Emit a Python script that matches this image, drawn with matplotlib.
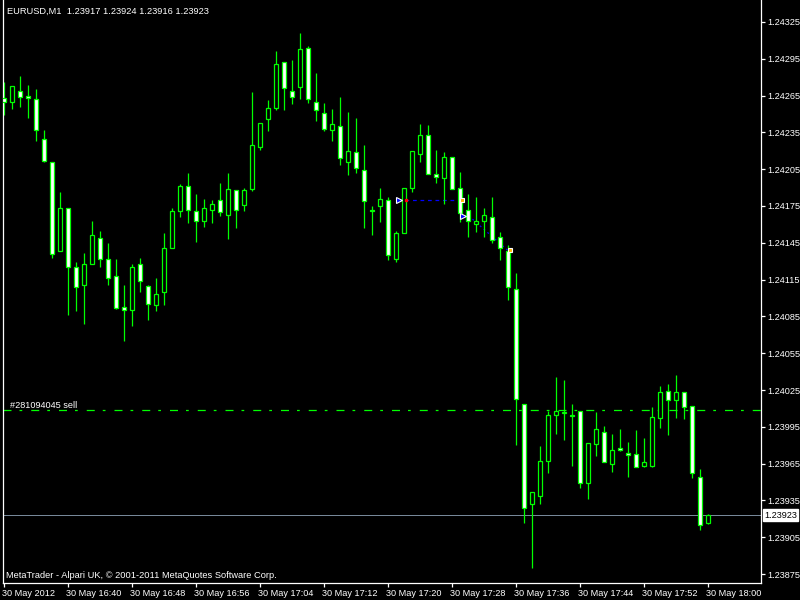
import numpy as np
import matplotlib
matplotlib.use('Agg')
import matplotlib.pyplot as plt
import matplotlib.transforms as mtransforms

plt.rcParams['font.family'] = ['Liberation Sans', 'DejaVu Sans']

# EURUSD M1, 30 May 2012, bars 16:32 .. 18:00
opens = [1.24263, 1.24260, 1.24269, 1.24265, 1.24262, 1.24230, 1.24211, 1.24138, 1.24173, 1.24125,
         1.24111, 1.24128, 1.24149, 1.24132, 1.24118, 1.24093, 1.24090, 1.24128, 1.24110, 1.24094,
         1.24105, 1.24141, 1.24171, 1.24191, 1.24171, 1.24163, 1.24172, 1.24180, 1.24168, 1.24188,
         1.24176, 1.24189, 1.24223, 1.24246, 1.24255, 1.24292, 1.24269, 1.24272, 1.24304, 1.24260,
         1.24251, 1.24237, 1.24240, 1.24211, 1.24219, 1.24204, 1.24172, 1.24175, 1.24180, 1.24132,
         1.24153, 1.24190, 1.24217, 1.24233, 1.24201, 1.24198, 1.24215, 1.24190, 1.24172, 1.24160,
         1.24163, 1.24166, 1.24150, 1.24138, 1.24107, 1.24014, 1.23932, 1.23939, 1.23967, 1.24005,
         1.24006, 1.24005, 1.24008, 1.23949, 1.23981, 1.23991, 1.23965, 1.23978, 1.23974, 1.23973,
         1.23963, 1.23963, 1.24002, 1.24024, 1.24017, 1.24023, 1.24012, 1.23954, 1.23917]
highs = [1.24276, 1.24273, 1.24281, 1.24274, 1.24270, 1.24237, 1.24211, 1.24186, 1.24173, 1.24129,
         1.24137, 1.24163, 1.24155, 1.24145, 1.24132, 1.24111, 1.24128, 1.24133, 1.24111, 1.24116,
         1.24153, 1.24173, 1.24193, 1.24202, 1.24185, 1.24181, 1.24180, 1.24194, 1.24202, 1.24188,
         1.24190, 1.24268, 1.24243, 1.24261, 1.24301, 1.24292, 1.24294, 1.24316, 1.24305, 1.24283,
         1.24259, 1.24254, 1.24264, 1.24252, 1.24247, 1.24225, 1.24175, 1.24190, 1.24182, 1.24155,
         1.24190, 1.24220, 1.24242, 1.24241, 1.24221, 1.24219, 1.24215, 1.24203, 1.24185, 1.24182,
         1.24173, 1.24182, 1.24154, 1.24143, 1.24120, 1.24014, 1.23942, 1.23979, 1.24008, 1.24036,
         1.24033, 1.24014, 1.24008, 1.23982, 1.24007, 1.23996, 1.23989, 1.23993, 1.23983, 1.23992,
         1.23986, 1.24011, 1.24028, 1.24030, 1.24037, 1.24023, 1.24012, 1.23961, 1.23924]
lows = [1.24249, 1.24254, 1.24256, 1.24247, 1.24228, 1.24211, 1.24133, 1.24138, 1.24086, 1.24089,
        1.24079, 1.24128, 1.24125, 1.24111, 1.24091, 1.24065, 1.24077, 1.24105, 1.24082, 1.24089,
        1.24094, 1.24141, 1.24166, 1.24161, 1.24146, 1.24158, 1.24161, 1.24167, 1.24148, 1.24157,
        1.24171, 1.24187, 1.24221, 1.24236, 1.24253, 1.24253, 1.24258, 1.24262, 1.24259, 1.24244,
        1.24236, 1.24228, 1.24208, 1.24200, 1.24202, 1.24157, 1.24151, 1.24162, 1.24131, 1.24129,
        1.24153, 1.24186, 1.24211, 1.24201, 1.24194, 1.24177, 1.24189, 1.24162, 1.24150, 1.24154,
        1.24150, 1.24145, 1.24131, 1.24098, 1.23980, 1.23917, 1.23880, 1.23932, 1.23957, 1.23989,
        1.23984, 1.23963, 1.23945, 1.23936, 1.23971, 1.23966, 1.23958, 1.23975, 1.23954, 1.23962,
        1.23962, 1.23962, 1.23994, 1.23988, 1.24002, 1.24001, 1.23953, 1.23911, 1.23916]
closes = [1.24260, 1.24273, 1.24264, 1.24263, 1.24237, 1.24212, 1.24136, 1.24173, 1.24125, 1.24109,
          1.24128, 1.24151, 1.24132, 1.24116, 1.24092, 1.24090, 1.24125, 1.24114, 1.24095, 1.24103,
          1.24141, 1.24171, 1.24191, 1.24172, 1.24163, 1.24173, 1.24177, 1.24170, 1.24189, 1.24172,
          1.24188, 1.24225, 1.24243, 1.24255, 1.24291, 1.24271, 1.24264, 1.24303, 1.24262, 1.24253,
          1.24238, 1.24242, 1.24214, 1.24220, 1.24206, 1.24179, 1.24171, 1.24181, 1.24135, 1.24153,
          1.24190, 1.24220, 1.24233, 1.24201, 1.24199, 1.24215, 1.24189, 1.24169, 1.24163, 1.24163,
          1.24168, 1.24147, 1.24141, 1.24109, 1.24018, 1.23929, 1.23942, 1.23967, 1.24005, 1.24008,
          1.24007, 1.24004, 1.23949, 1.23982, 1.23993, 1.23966, 1.23976, 1.23976, 1.23972, 1.23962,
          1.23966, 1.24003, 1.24023, 1.24017, 1.24023, 1.24011, 1.23957, 1.23915, 1.23923]

time_ticks = [0, 8, 16, 24, 32, 40, 48, 56, 64, 72, 80, 88]
time_labels = ['30 May 2012', '30 May 16:40', '30 May 16:48', '30 May 16:56', '30 May 17:04',
               '30 May 17:12', '30 May 17:20', '30 May 17:28', '30 May 17:36', '30 May 17:44',
               '30 May 17:52', '30 May 18:00']
price_ticks = [1.24325, 1.24295, 1.24265, 1.24235, 1.24205, 1.24175, 1.24145, 1.24115,
               1.24085, 1.24055, 1.24025, 1.23995, 1.23965, 1.23935, 1.23905, 1.23875]

bid = 1.23923
order_price = 1.24009
order_label = '#281094045 sell'
# closed trades: open and close points
trade_open_x = [49.45, 57.45]
trade_open_y = [1.24180, 1.24167]
trade_close_x = [57.3, 63.3]
trade_close_y = [1.24180, 1.24139]

green = '#00FF00'
px = 0.72   # one pixel in points
clw = 0.9   # candle line width

fig = plt.figure(figsize=(8, 6), dpi=100, facecolor='black')
ax = fig.add_axes([2.5 / 800, 1 - 582.5 / 600, 758 / 800, 582.5 / 600])
ax.set_facecolor('black')

x = np.arange(len(opens))
o = np.array(opens)
c = np.array(closes)

# bid line and order line (behind candles)
ax.axhline(bid, color='#778899', lw=px, zorder=1)
ax.axhline(order_price, color=green, lw=clw, dashes=(6.4, 6.4, 2.2, 7.2), zorder=1)

# trade history
ax.plot([trade_open_x[0] + 0.7, trade_close_x[0] - 0.3], [trade_open_y[0], trade_close_y[0]],
        color='blue', lw=clw, dashes=(3, 3), zorder=1)
ax.plot([trade_open_x[1] + 0.7, trade_close_x[1] - 0.3], [trade_open_y[1], trade_close_y[1]],
        color='blue', lw=clw, dashes=(1.5, 2.5), zorder=1)
ax.plot(trade_open_x[0] + 0.8, trade_open_y[0], 's', color='red', ms=1.5, zorder=4)

# candles
ax.vlines(x, lows, highs, color=green, lw=clw, zorder=2)
fills = ['black' if cc > oo else 'white' for oo, cc in zip(o, c)]
ax.bar(x, np.abs(c - o), bottom=np.minimum(o, c), width=0.5, color=fills,
       edgecolor=green, linewidth=clw, zorder=3)

ax.plot(trade_open_x, trade_open_y, '>', color='blue', mec='white', mew=0.8, ms=5, zorder=5)
ax.plot(trade_close_x, trade_close_y, 's', color='#FFB400', mec='white', mew=0.8, ms=3.5, zorder=5)

# bar centres land on pixel centres
ax.set_xlim(-0.125, 94.625)
ax.set_ylim(1.238681, 1.243429)

for side in ['left', 'bottom', 'right']:
    ax.spines[side].set_color('white')
    ax.spines[side].set_linewidth(clw)
ax.spines['top'].set_visible(False)

ax.yaxis.tick_right()
ax.set_yticks(price_ticks)
ax.set_yticklabels(['%.5f' % p for p in price_ticks])
ax.tick_params(axis='y', colors='white', length=3, width=clw, pad=2, labelsize=6.6)
ax.set_xticks(time_ticks)
ax.set_xticklabels(time_labels, ha='left')
ax.tick_params(axis='x', colors='white', length=3, width=clw, pad=1.5, labelsize=6.6)
for lab in ax.get_xticklabels():
    lab.set_transform(lab.get_transform() + mtransforms.ScaledTranslation(-1 / 100, 0, fig.dpi_scale_trans))

# bid price box on the axis
ax.annotate('%.5f' % bid, xy=(1, bid), xycoords=('axes fraction', 'data'),
            xytext=(2.5, 0), textcoords='offset points', ha='left', va='center',
            fontsize=6.6, color='black',
            bbox=dict(boxstyle='square,pad=0.15', fc='white', ec='white'))

ax.text(8 / 758, order_price, order_label, transform=ax.get_yaxis_transform(),
        color='white', fontsize=6.6, ha='left', va='bottom')

fig.text(7 / 800, 1 - 11 / 600, 'EURUSD,M1  1.23917 1.23924 1.23916 1.23923',
         color='white', fontsize=6.7, ha='left', va='center')
fig.text(6 / 800, 1 - 575 / 600, 'MetaTrader - Alpari UK, \u00a9 2001-2011 MetaQuotes Software Corp.',
         color='white', fontsize=6.7, ha='left', va='center')

fig.savefig('out.png', dpi=100, facecolor='black')
